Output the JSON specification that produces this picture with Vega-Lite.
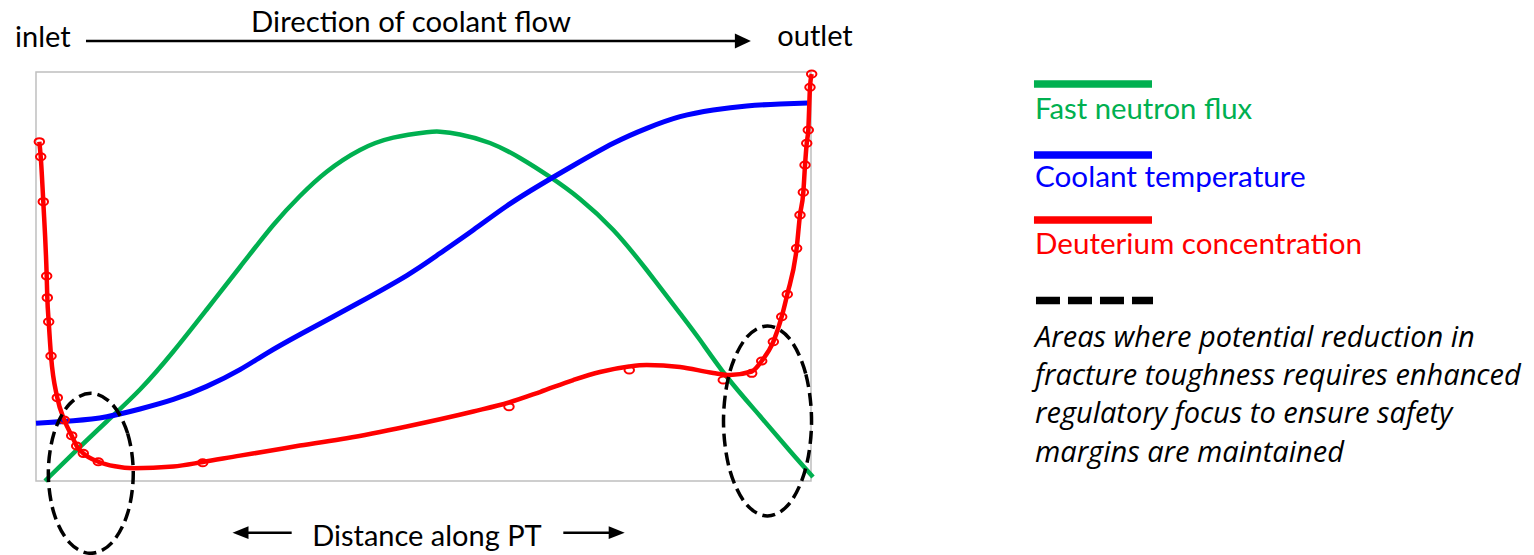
{
  "$schema": "https://vega.github.io/schema/vega-lite/v6.json",
  "width": 1534,
  "height": 555,
  "padding": 0,
  "autosize": {"type": "none"},
  "background": "white",
  "config": {"view": {"stroke": null}, "font": "Lato"},
  "datasets": {
    "curves": [
      {"series": "Fast neutron flux", "x": 1.16, "y": 0},
      {"series": "Fast neutron flux", "x": 4.81, "y": 6.77},
      {"series": "Fast neutron flux", "x": 9.12, "y": 14.55},
      {"series": "Fast neutron flux", "x": 13.42, "y": 22.37},
      {"series": "Fast neutron flux", "x": 17.72, "y": 31.66},
      {"series": "Fast neutron flux", "x": 22.03, "y": 41.93},
      {"series": "Fast neutron flux", "x": 26.32, "y": 52.32},
      {"series": "Fast neutron flux", "x": 30.62, "y": 62.59},
      {"series": "Fast neutron flux", "x": 34.06, "y": 69.68},
      {"series": "Fast neutron flux", "x": 37.51, "y": 75.62},
      {"series": "Fast neutron flux", "x": 41.81, "y": 80.93},
      {"series": "Fast neutron flux", "x": 46.10, "y": 83.94},
      {"series": "Fast neutron flux", "x": 50.41, "y": 85.26},
      {"series": "Fast neutron flux", "x": 52.13, "y": 85.40},
      {"series": "Fast neutron flux", "x": 54.71, "y": 84.72},
      {"series": "Fast neutron flux", "x": 58.58, "y": 82.64},
      {"series": "Fast neutron flux", "x": 62.45, "y": 78.97},
      {"series": "Fast neutron flux", "x": 66.32, "y": 74.33},
      {"series": "Fast neutron flux", "x": 70.19, "y": 68.95},
      {"series": "Fast neutron flux", "x": 74.49, "y": 61.37},
      {"series": "Fast neutron flux", "x": 78.80, "y": 51.59},
      {"series": "Fast neutron flux", "x": 83.10, "y": 41.00},
      {"series": "Fast neutron flux", "x": 85.68, "y": 34.47},
      {"series": "Fast neutron flux", "x": 89.16, "y": 25.43},
      {"series": "Fast neutron flux", "x": 93.42, "y": 15.89},
      {"series": "Fast neutron flux", "x": 97.29, "y": 7.33},
      {"series": "Fast neutron flux", "x": 100.26, "y": 0.98},
      {"series": "Coolant temperature", "x": 0, "y": 14.11},
      {"series": "Coolant temperature", "x": 4.81, "y": 14.74},
      {"series": "Coolant temperature", "x": 9.12, "y": 15.72},
      {"series": "Coolant temperature", "x": 13.42, "y": 17.60},
      {"series": "Coolant temperature", "x": 17.72, "y": 19.93},
      {"series": "Coolant temperature", "x": 22.03, "y": 23.13},
      {"series": "Coolant temperature", "x": 26.32, "y": 27.24},
      {"series": "Coolant temperature", "x": 29.77, "y": 31.22},
      {"series": "Coolant temperature", "x": 34.06, "y": 35.82},
      {"series": "Coolant temperature", "x": 38.32, "y": 40.17},
      {"series": "Coolant temperature", "x": 41.81, "y": 43.77},
      {"series": "Coolant temperature", "x": 47.83, "y": 50.24},
      {"series": "Coolant temperature", "x": 52.13, "y": 55.67},
      {"series": "Coolant temperature", "x": 56.43, "y": 61.37},
      {"series": "Coolant temperature", "x": 60.74, "y": 67.24},
      {"series": "Coolant temperature", "x": 65.03, "y": 72.37},
      {"series": "Coolant temperature", "x": 69.33, "y": 77.14},
      {"series": "Coolant temperature", "x": 74.49, "y": 82.57},
      {"series": "Coolant temperature", "x": 78.80, "y": 86.23},
      {"series": "Coolant temperature", "x": 83.10, "y": 89.07},
      {"series": "Coolant temperature", "x": 87.39, "y": 90.71},
      {"series": "Coolant temperature", "x": 91.70, "y": 91.69},
      {"series": "Coolant temperature", "x": 96.00, "y": 92.18},
      {"series": "Coolant temperature", "x": 99.61, "y": 92.42},
      {"series": "Deuterium concentration", "x": 0.43, "y": 82.96},
      {"series": "Deuterium concentration", "x": 0.61, "y": 79.29},
      {"series": "Deuterium concentration", "x": 0.94, "y": 68.29},
      {"series": "Deuterium concentration", "x": 1.38, "y": 50.12},
      {"series": "Deuterium concentration", "x": 1.46, "y": 44.82},
      {"series": "Deuterium concentration", "x": 1.64, "y": 38.95},
      {"series": "Deuterium concentration", "x": 1.94, "y": 30.56},
      {"series": "Deuterium concentration", "x": 2.75, "y": 20.37},
      {"series": "Deuterium concentration", "x": 3.65, "y": 14.91},
      {"series": "Deuterium concentration", "x": 4.61, "y": 11.08},
      {"series": "Deuterium concentration", "x": 5.25, "y": 8.56},
      {"series": "Deuterium concentration", "x": 6.10, "y": 6.77},
      {"series": "Deuterium concentration", "x": 8.04, "y": 4.72},
      {"series": "Deuterium concentration", "x": 10.19, "y": 3.59},
      {"series": "Deuterium concentration", "x": 12.55, "y": 3.11},
      {"series": "Deuterium concentration", "x": 17.72, "y": 3.55},
      {"series": "Deuterium concentration", "x": 21.55, "y": 4.65},
      {"series": "Deuterium concentration", "x": 26.32, "y": 6.21},
      {"series": "Deuterium concentration", "x": 29.77, "y": 7.26},
      {"series": "Deuterium concentration", "x": 34.06, "y": 8.68},
      {"series": "Deuterium concentration", "x": 40.09, "y": 10.44},
      {"series": "Deuterium concentration", "x": 47.83, "y": 13.33},
      {"series": "Deuterium concentration", "x": 56.43, "y": 16.99},
      {"series": "Deuterium concentration", "x": 61.03, "y": 19.19},
      {"series": "Deuterium concentration", "x": 65.03, "y": 21.76},
      {"series": "Deuterium concentration", "x": 69.33, "y": 24.69},
      {"series": "Deuterium concentration", "x": 72.77, "y": 26.65},
      {"series": "Deuterium concentration", "x": 76.52, "y": 28.00},
      {"series": "Deuterium concentration", "x": 78.80, "y": 28.36},
      {"series": "Deuterium concentration", "x": 83.10, "y": 27.87},
      {"series": "Deuterium concentration", "x": 87.39, "y": 26.41},
      {"series": "Deuterium concentration", "x": 89.55, "y": 25.92},
      {"series": "Deuterium concentration", "x": 92.35, "y": 26.77},
      {"series": "Deuterium concentration", "x": 93.64, "y": 29.34},
      {"series": "Deuterium concentration", "x": 95.14, "y": 34.06},
      {"series": "Deuterium concentration", "x": 96.22, "y": 40.17},
      {"series": "Deuterium concentration", "x": 96.94, "y": 45.65},
      {"series": "Deuterium concentration", "x": 98.15, "y": 56.89},
      {"series": "Deuterium concentration", "x": 98.58, "y": 65.04},
      {"series": "Deuterium concentration", "x": 99.01, "y": 70.59},
      {"series": "Deuterium concentration", "x": 99.23, "y": 77.26},
      {"series": "Deuterium concentration", "x": 99.45, "y": 82.57},
      {"series": "Deuterium concentration", "x": 99.65, "y": 85.82},
      {"series": "Deuterium concentration", "x": 99.87, "y": 96.26},
      {"series": "Deuterium concentration", "x": 100.09, "y": 99.51}
    ],
    "markers": [
      {"x": 0.43, "y": 82.96}, {"x": 0.61, "y": 79.29}, {"x": 0.94, "y": 68.29},
      {"x": 1.38, "y": 50.12}, {"x": 1.46, "y": 44.82}, {"x": 1.64, "y": 38.95},
      {"x": 1.94, "y": 30.56}, {"x": 2.75, "y": 20.37}, {"x": 3.65, "y": 14.91},
      {"x": 4.61, "y": 11.08}, {"x": 5.25, "y": 8.56}, {"x": 6.10, "y": 6.77},
      {"x": 8.04, "y": 4.72}, {"x": 21.51, "y": 4.47}, {"x": 61.03, "y": 18.17},
      {"x": 76.55, "y": 27.14}, {"x": 88.68, "y": 24.69}, {"x": 92.35, "y": 26.33},
      {"x": 93.64, "y": 29.34}, {"x": 95.14, "y": 34.06}, {"x": 96.22, "y": 40.17},
      {"x": 96.94, "y": 45.65}, {"x": 98.15, "y": 56.89}, {"x": 98.58, "y": 65.04},
      {"x": 99.01, "y": 70.59}, {"x": 99.23, "y": 77.26}, {"x": 99.45, "y": 82.57},
      {"x": 99.65, "y": 85.82}, {"x": 99.87, "y": 96.26}, {"x": 100.09, "y": 99.51}
    ],
    "ellipses": [
      {"zone": "inlet", "i": 0, "x": 12.55, "y": 1.88},
      {"zone": "inlet", "i": 1, "x": 11.82, "y": 11.66},
      {"zone": "inlet", "i": 2, "x": 9.81, "y": 18.82},
      {"zone": "inlet", "i": 3, "x": 7.07, "y": 21.44},
      {"zone": "inlet", "i": 4, "x": 4.33, "y": 18.82},
      {"zone": "inlet", "i": 5, "x": 2.32, "y": 11.66},
      {"zone": "inlet", "i": 6, "x": 1.59, "y": 1.88},
      {"zone": "inlet", "i": 7, "x": 2.32, "y": -7.90},
      {"zone": "inlet", "i": 8, "x": 4.33, "y": -15.06},
      {"zone": "inlet", "i": 9, "x": 7.07, "y": -17.68},
      {"zone": "inlet", "i": 10, "x": 9.81, "y": -15.06},
      {"zone": "inlet", "i": 11, "x": 11.82, "y": -7.90},
      {"zone": "outlet", "i": 0, "x": 100.07, "y": 14.67},
      {"zone": "outlet", "i": 1, "x": 99.31, "y": 26.29},
      {"zone": "outlet", "i": 2, "x": 97.23, "y": 34.79},
      {"zone": "outlet", "i": 3, "x": 94.39, "y": 37.90},
      {"zone": "outlet", "i": 4, "x": 91.55, "y": 34.79},
      {"zone": "outlet", "i": 5, "x": 89.47, "y": 26.29},
      {"zone": "outlet", "i": 6, "x": 88.71, "y": 14.67},
      {"zone": "outlet", "i": 7, "x": 89.47, "y": 3.05},
      {"zone": "outlet", "i": 8, "x": 91.55, "y": -5.45},
      {"zone": "outlet", "i": 9, "x": 94.39, "y": -8.56},
      {"zone": "outlet", "i": 10, "x": 97.23, "y": -5.45},
      {"zone": "outlet", "i": 11, "x": 99.31, "y": 3.05}
    ]
  },
  "layer": [
    {
      "data": {"values": [{}]},
      "mark": {"type": "rect", "fillOpacity": 0, "stroke": "#BFBFBF", "strokeWidth": 1.5},
      "encoding": {
        "x": {"datum": 0, "type": "quantitative", "scale": {"domain": [-4.645, 193.29], "nice": false, "zero": false}, "axis": null},
        "x2": {"datum": 100},
        "y": {"datum": 0, "type": "quantitative", "scale": {"domain": [-18.09, 117.6], "nice": false, "zero": false}, "axis": null},
        "y2": {"datum": 100}
      }
    },
    {
      "data": {"name": "curves"},
      "transform": [{"filter": "datum.series === 'Fast neutron flux'"}],
      "mark": {"type": "line", "interpolate": "natural", "strokeWidth": 4.5},
      "encoding": {
        "x": {"field": "x", "type": "quantitative", "scale": {"domain": [-4.645, 193.29], "nice": false, "zero": false}, "axis": null},
        "y": {"field": "y", "type": "quantitative", "scale": {"domain": [-18.09, 117.6], "nice": false, "zero": false}, "axis": null},
        "color": {"field": "series", "type": "nominal", "scale": {"domain": ["Fast neutron flux", "Coolant temperature", "Deuterium concentration"], "range": ["#00B050", "#0000FF", "#FF0000"]}, "legend": null},
        "order": {"field": "x"}
      }
    },
    {
      "data": {"name": "curves"},
      "transform": [{"filter": "datum.series === 'Coolant temperature'"}],
      "mark": {"type": "line", "interpolate": "natural", "strokeWidth": 5},
      "encoding": {
        "x": {"field": "x", "type": "quantitative", "scale": {"domain": [-4.645, 193.29], "nice": false, "zero": false}, "axis": null},
        "y": {"field": "y", "type": "quantitative", "scale": {"domain": [-18.09, 117.6], "nice": false, "zero": false}, "axis": null},
        "color": {"field": "series", "type": "nominal", "scale": {"domain": ["Fast neutron flux", "Coolant temperature", "Deuterium concentration"], "range": ["#00B050", "#0000FF", "#FF0000"]}, "legend": null},
        "order": {"field": "x"}
      }
    },
    {
      "data": {"name": "curves"},
      "transform": [{"filter": "datum.series === 'Deuterium concentration'"}],
      "mark": {"type": "line", "interpolate": "monotone", "strokeWidth": 4.5},
      "encoding": {
        "x": {"field": "x", "type": "quantitative", "scale": {"domain": [-4.645, 193.29], "nice": false, "zero": false}, "axis": null},
        "y": {"field": "y", "type": "quantitative", "scale": {"domain": [-18.09, 117.6], "nice": false, "zero": false}, "axis": null},
        "color": {"field": "series", "type": "nominal", "scale": {"domain": ["Fast neutron flux", "Coolant temperature", "Deuterium concentration"], "range": ["#00B050", "#0000FF", "#FF0000"]}, "legend": null},
        "order": {"field": "x"}
      }
    },
    {
      "data": {"name": "markers"},
      "mark": {"type": "point", "shape": "M -1 0 A 1 0.75 0 1 0 1 0 A 1 0.75 0 1 0 -1 0 Z", "filled": false, "size": 90, "strokeWidth": 2, "color": "#FF0000", "opacity": 1},
      "encoding": {
        "x": {"field": "x", "type": "quantitative", "scale": {"domain": [-4.645, 193.29], "nice": false, "zero": false}, "axis": null},
        "y": {"field": "y", "type": "quantitative", "scale": {"domain": [-18.09, 117.6], "nice": false, "zero": false}, "axis": null}
      }
    },
    {
      "data": {"name": "ellipses"},
      "mark": {"type": "line", "interpolate": "cardinal-closed", "strokeWidth": 3.5, "strokeDash": [13, 6], "color": "black"},
      "encoding": {
        "x": {"field": "x", "type": "quantitative", "scale": {"domain": [-4.645, 193.29], "nice": false, "zero": false}, "axis": null},
        "y": {"field": "y", "type": "quantitative", "scale": {"domain": [-18.09, 117.6], "nice": false, "zero": false}, "axis": null},
        "detail": {"field": "zone"},
        "order": {"field": "i"}
      }
    },
    {
      "data": {"values": [{}]},
      "mark": {"type": "rule", "strokeWidth": 2.5, "color": "black"},
      "encoding": {
        "x": {"datum": 6.45, "type": "quantitative", "scale": {"domain": [-4.645, 193.29], "nice": false, "zero": false}, "axis": null},
        "x2": {"datum": 91.0},
        "y": {"datum": 107.58, "type": "quantitative", "scale": {"domain": [-18.09, 117.6], "nice": false, "zero": false}, "axis": null}
      }
    },
    {
      "data": {"values": [{}]},
      "mark": {"type": "point", "shape": "M -1 -0.94 L 1 0 L -1 0.94 Z", "filled": true, "size": 256, "color": "black", "opacity": 1},
      "encoding": {
        "x": {"datum": 91.21, "type": "quantitative", "scale": {"domain": [-4.645, 193.29], "nice": false, "zero": false}, "axis": null},
        "y": {"datum": 107.58, "type": "quantitative", "scale": {"domain": [-18.09, 117.6], "nice": false, "zero": false}, "axis": null}
      }
    },
    {
      "data": {"values": [{}]},
      "mark": {"type": "rule", "strokeWidth": 2.5, "color": "black"},
      "encoding": {
        "x": {"datum": 26.4, "type": "quantitative", "scale": {"domain": [-4.645, 193.29], "nice": false, "zero": false}, "axis": null},
        "x2": {"datum": 32.99},
        "y": {"datum": -12.64, "type": "quantitative", "scale": {"domain": [-18.09, 117.6], "nice": false, "zero": false}, "axis": null}
      }
    },
    {
      "data": {"values": [{}]},
      "mark": {"type": "point", "shape": "M 1 -0.8 L -1 0 L 1 0.8 Z", "filled": true, "size": 256, "color": "black", "opacity": 1},
      "encoding": {
        "x": {"datum": 26.39, "type": "quantitative", "scale": {"domain": [-4.645, 193.29], "nice": false, "zero": false}, "axis": null},
        "y": {"datum": -12.64, "type": "quantitative", "scale": {"domain": [-18.09, 117.6], "nice": false, "zero": false}, "axis": null}
      }
    },
    {
      "data": {"values": [{}]},
      "mark": {"type": "rule", "strokeWidth": 2.5, "color": "black"},
      "encoding": {
        "x": {"datum": 68.04, "type": "quantitative", "scale": {"domain": [-4.645, 193.29], "nice": false, "zero": false}, "axis": null},
        "x2": {"datum": 74.9},
        "y": {"datum": -12.64, "type": "quantitative", "scale": {"domain": [-18.09, 117.6], "nice": false, "zero": false}, "axis": null}
      }
    },
    {
      "data": {"values": [{}]},
      "mark": {"type": "point", "shape": "M -1 -0.8 L 1 0 L -1 0.8 Z", "filled": true, "size": 256, "color": "black", "opacity": 1},
      "encoding": {
        "x": {"datum": 74.93, "type": "quantitative", "scale": {"domain": [-4.645, 193.29], "nice": false, "zero": false}, "axis": null},
        "y": {"datum": -12.64, "type": "quantitative", "scale": {"domain": [-18.09, 117.6], "nice": false, "zero": false}, "axis": null}
      }
    },
    {
      "data": {"values": [{}]},
      "mark": {"type": "text", "text": "inlet", "align": "left", "baseline": "alphabetic", "fontSize": 29, "color": "black"},
      "encoding": {
        "x": {"datum": -2.71, "type": "quantitative", "scale": {"domain": [-4.645, 193.29], "nice": false, "zero": false}, "axis": null},
        "y": {"datum": 106.19, "type": "quantitative", "scale": {"domain": [-18.09, 117.6], "nice": false, "zero": false}, "axis": null}
      }
    },
    {
      "data": {"values": [{}]},
      "mark": {"type": "text", "text": "Direction of coolant flow", "align": "center", "baseline": "alphabetic", "fontSize": 29.3, "color": "black"},
      "encoding": {
        "x": {"datum": 48.39, "type": "quantitative", "scale": {"domain": [-4.645, 193.29], "nice": false, "zero": false}, "axis": null},
        "y": {"datum": 109.71, "type": "quantitative", "scale": {"domain": [-18.09, 117.6], "nice": false, "zero": false}, "axis": null}
      }
    },
    {
      "data": {"values": [{}]},
      "mark": {"type": "text", "text": "outlet", "align": "center", "baseline": "alphabetic", "fontSize": 29, "color": "black"},
      "encoding": {
        "x": {"datum": 100.52, "type": "quantitative", "scale": {"domain": [-4.645, 193.29], "nice": false, "zero": false}, "axis": null},
        "y": {"datum": 106.43, "type": "quantitative", "scale": {"domain": [-18.09, 117.6], "nice": false, "zero": false}, "axis": null}
      }
    },
    {
      "data": {"values": [{}]},
      "mark": {"type": "text", "text": "Distance along PT", "align": "center", "baseline": "alphabetic", "fontSize": 29, "color": "black"},
      "encoding": {
        "x": {"datum": 50.45, "type": "quantitative", "scale": {"domain": [-4.645, 193.29], "nice": false, "zero": false}, "axis": null},
        "y": {"datum": -15.82, "type": "quantitative", "scale": {"domain": [-18.09, 117.6], "nice": false, "zero": false}, "axis": null}
      }
    },
    {
      "data": {"values": [{}]},
      "mark": {"type": "rule", "strokeWidth": 7.5, "color": "#00B050"},
      "encoding": {
        "x": {"datum": 128.77, "type": "quantitative", "scale": {"domain": [-4.645, 193.29], "nice": false, "zero": false}, "axis": null},
        "x2": {"datum": 144.0},
        "y": {"datum": 97.07, "type": "quantitative", "scale": {"domain": [-18.09, 117.6], "nice": false, "zero": false}, "axis": null}
      }
    },
    {
      "data": {"values": [{}]},
      "mark": {"type": "rule", "strokeWidth": 7.5, "color": "#0000FF"},
      "encoding": {
        "x": {"datum": 128.77, "type": "quantitative", "scale": {"domain": [-4.645, 193.29], "nice": false, "zero": false}, "axis": null},
        "x2": {"datum": 144.0},
        "y": {"datum": 79.71, "type": "quantitative", "scale": {"domain": [-18.09, 117.6], "nice": false, "zero": false}, "axis": null}
      }
    },
    {
      "data": {"values": [{}]},
      "mark": {"type": "rule", "strokeWidth": 7.5, "color": "#FF0000"},
      "encoding": {
        "x": {"datum": 128.77, "type": "quantitative", "scale": {"domain": [-4.645, 193.29], "nice": false, "zero": false}, "axis": null},
        "x2": {"datum": 144.0},
        "y": {"datum": 63.81, "type": "quantitative", "scale": {"domain": [-18.09, 117.6], "nice": false, "zero": false}, "axis": null}
      }
    },
    {
      "data": {"values": [{}]},
      "mark": {"type": "rule", "strokeWidth": 7.5, "color": "black", "strokeDash": [24, 8]},
      "encoding": {
        "x": {"datum": 129.03, "type": "quantitative", "scale": {"domain": [-4.645, 193.29], "nice": false, "zero": false}, "axis": null},
        "x2": {"datum": 144.13},
        "y": {"datum": 44.13, "type": "quantitative", "scale": {"domain": [-18.09, 117.6], "nice": false, "zero": false}, "axis": null}
      }
    },
    {
      "data": {"values": [{}]},
      "mark": {"type": "text", "text": "Fast neutron flux", "align": "left", "baseline": "alphabetic", "fontSize": 29.3, "color": "#00B050"},
      "encoding": {
        "x": {"datum": 128.9, "type": "quantitative", "scale": {"domain": [-4.645, 193.29], "nice": false, "zero": false}, "axis": null},
        "y": {"datum": 88.43, "type": "quantitative", "scale": {"domain": [-18.09, 117.6], "nice": false, "zero": false}, "axis": null}
      }
    },
    {
      "data": {"values": [{}]},
      "mark": {"type": "text", "text": "Coolant temperature", "align": "left", "baseline": "alphabetic", "fontSize": 29.7, "color": "#0000FF"},
      "encoding": {
        "x": {"datum": 128.9, "type": "quantitative", "scale": {"domain": [-4.645, 193.29], "nice": false, "zero": false}, "axis": null},
        "y": {"datum": 71.81, "type": "quantitative", "scale": {"domain": [-18.09, 117.6], "nice": false, "zero": false}, "axis": null}
      }
    },
    {
      "data": {"values": [{}]},
      "mark": {"type": "text", "text": "Deuterium concentration", "align": "left", "baseline": "alphabetic", "fontSize": 29.6, "color": "#FF0000"},
      "encoding": {
        "x": {"datum": 128.9, "type": "quantitative", "scale": {"domain": [-4.645, 193.29], "nice": false, "zero": false}, "axis": null},
        "y": {"datum": 55.43, "type": "quantitative", "scale": {"domain": [-18.09, 117.6], "nice": false, "zero": false}, "axis": null}
      }
    },
    {
      "data": {"values": [{}]},
      "mark": {"type": "text", "text": ["Areas where potential reduction in", "fracture toughness requires enhanced", "regulatory focus to ensure safety", "margins are maintained"], "align": "left", "baseline": "alphabetic", "font": "Open Sans", "fontSize": 29, "fontStyle": "italic", "lineHeight": 38.3, "color": "black"},
      "encoding": {
        "x": {"datum": 128.9, "type": "quantitative", "scale": {"domain": [-4.645, 193.29], "nice": false, "zero": false}, "axis": null},
        "y": {"datum": 32.84, "type": "quantitative", "scale": {"domain": [-18.09, 117.6], "nice": false, "zero": false}, "axis": null}
      }
    }
  ]
}
